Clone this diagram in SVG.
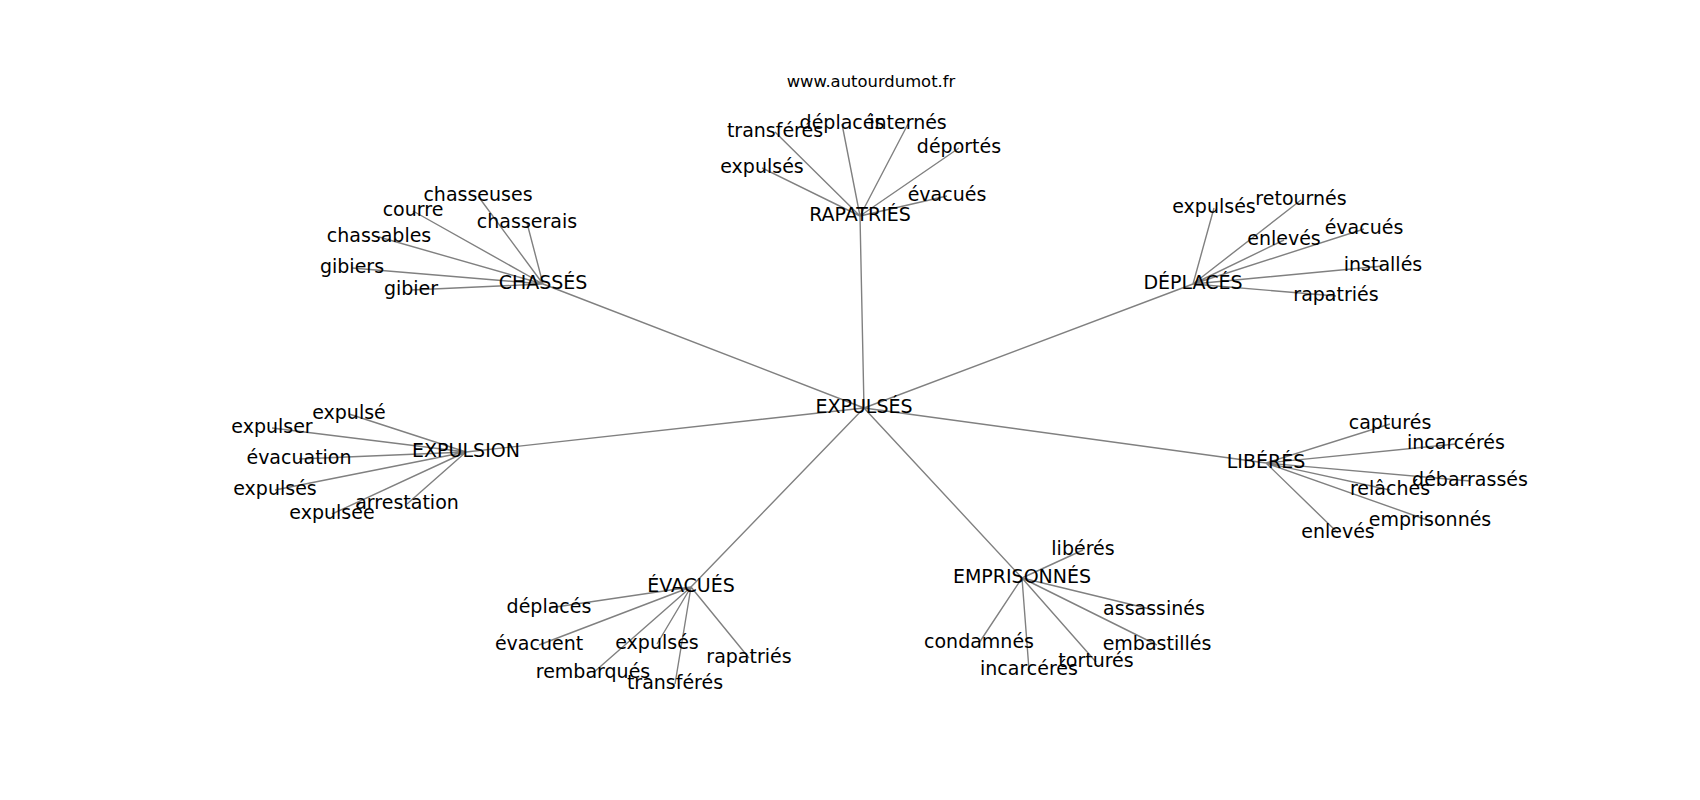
<svg xmlns="http://www.w3.org/2000/svg" width="1700" height="800" viewBox="0 0 1700 800">
<style>
.e{stroke:#808080;stroke-width:1.4;fill:none}
text{font-family:"DejaVu Sans",sans-serif;font-size:19px;fill:#000;text-anchor:middle}
.t{font-size:16.4px}
</style>
<rect width="1700" height="800" fill="#fff"/>
<text class="t" x="871" y="87">www.autourdumot.fr</text>
<g id="connectors">
<path class="e" d="M864 408L860 216M864 408L543 284M864 408L1193 284M864 408L466 452M864 408L1266 463M864 408L691 587M864 408L1022 578"/>
<path class="e" d="M860 216L775 132M860 216L842 124M860 216L908 124M860 216L959 148M860 216L762 168M860 216L947 196"/>
<path class="e" d="M543 284L478 196M543 284L413 211M543 284L527 223M543 284L379 237M543 284L352 268M543 284L411 290"/>
<path class="e" d="M1193 284L1214 208M1193 284L1301 200M1193 284L1284 240M1193 284L1364 229M1193 284L1383 266M1193 284L1336 296"/>
<path class="e" d="M466 452L349 414M466 452L272 428M466 452L299 459M466 452L275 490M466 452L332 514M466 452L407 504"/>
<path class="e" d="M1266 463L1390 424M1266 463L1456 444M1266 463L1470 481M1266 463L1390 490M1266 463L1430 521M1266 463L1338 533"/>
<path class="e" d="M691 587L549 608M691 587L539 645M691 587L657 644M691 587L749 658M691 587L593 673M691 587L675 684"/>
<path class="e" d="M1022 578L1083 550M1022 578L1154 610M1022 578L979 643M1022 578L1157 645M1022 578L1096 662M1022 578L1029 670"/>
</g>
<g id="n-expulses"><text x="864" y="413">EXPULSÉS</text></g>
<g id="n-rapatries"><text x="860" y="221">RAPATRIÉS</text></g>
<g id="n-chasses"><text x="543" y="289">CHASSÉS</text></g>
<g id="n-deplaces"><text x="1193" y="289">DÉPLACÉS</text></g>
<g id="n-expulsion"><text x="466" y="457">EXPULSION</text></g>
<g id="n-liberes"><text x="1266" y="468">LIBÉRÉS</text></g>
<g id="n-evacues"><text x="691" y="592">ÉVACUÉS</text></g>
<g id="n-emprisonnes"><text x="1022" y="583">EMPRISONNÉS</text></g>
<g id="n-r1"><text x="775" y="137">transférés</text></g>
<g id="n-r2"><text x="842" y="129">déplacés</text></g>
<g id="n-r3"><text x="908" y="129">internés</text></g>
<g id="n-r4"><text x="959" y="153">déportés</text></g>
<g id="n-r5"><text x="762" y="173">expulsés</text></g>
<g id="n-r6"><text x="947" y="201">évacués</text></g>
<g id="n-c1"><text x="478" y="201">chasseuses</text></g>
<g id="n-c2"><text x="413" y="216">courre</text></g>
<g id="n-c3"><text x="527" y="228">chasserais</text></g>
<g id="n-c4"><text x="379" y="242">chassables</text></g>
<g id="n-c5"><text x="352" y="273">gibiers</text></g>
<g id="n-c6"><text x="411" y="295">gibier</text></g>
<g id="n-d1"><text x="1214" y="213">expulsés</text></g>
<g id="n-d2"><text x="1301" y="205">retournés</text></g>
<g id="n-d3"><text x="1284" y="245">enlevés</text></g>
<g id="n-d4"><text x="1364" y="234">évacués</text></g>
<g id="n-d5"><text x="1383" y="271">installés</text></g>
<g id="n-d6"><text x="1336" y="301">rapatriés</text></g>
<g id="n-x1"><text x="349" y="419">expulsé</text></g>
<g id="n-x2"><text x="272" y="433">expulser</text></g>
<g id="n-x3"><text x="299" y="464">évacuation</text></g>
<g id="n-x4"><text x="275" y="495">expulsés</text></g>
<g id="n-x5"><text x="332" y="519">expulsée</text></g>
<g id="n-x6"><text x="407" y="509">arrestation</text></g>
<g id="n-l1"><text x="1390" y="429">capturés</text></g>
<g id="n-l2"><text x="1456" y="449">incarcérés</text></g>
<g id="n-l3"><text x="1470" y="486">débarrassés</text></g>
<g id="n-l4"><text x="1390" y="495">relâchés</text></g>
<g id="n-l5"><text x="1430" y="526">emprisonnés</text></g>
<g id="n-l6"><text x="1338" y="538">enlevés</text></g>
<g id="n-v1"><text x="549" y="613">déplacés</text></g>
<g id="n-v2"><text x="539" y="650">évacuent</text></g>
<g id="n-v3"><text x="657" y="649">expulsés</text></g>
<g id="n-v4"><text x="749" y="663">rapatriés</text></g>
<g id="n-v5"><text x="593" y="678">rembarqués</text></g>
<g id="n-v6"><text x="675" y="689">transférés</text></g>
<g id="n-m1"><text x="1083" y="555">libérés</text></g>
<g id="n-m2"><text x="1154" y="615">assassinés</text></g>
<g id="n-m3"><text x="979" y="648">condamnés</text></g>
<g id="n-m4"><text x="1157" y="650">embastillés</text></g>
<g id="n-m5"><text x="1096" y="667">torturés</text></g>
<g id="n-m6"><text x="1029" y="675">incarcérés</text></g>
</svg>
